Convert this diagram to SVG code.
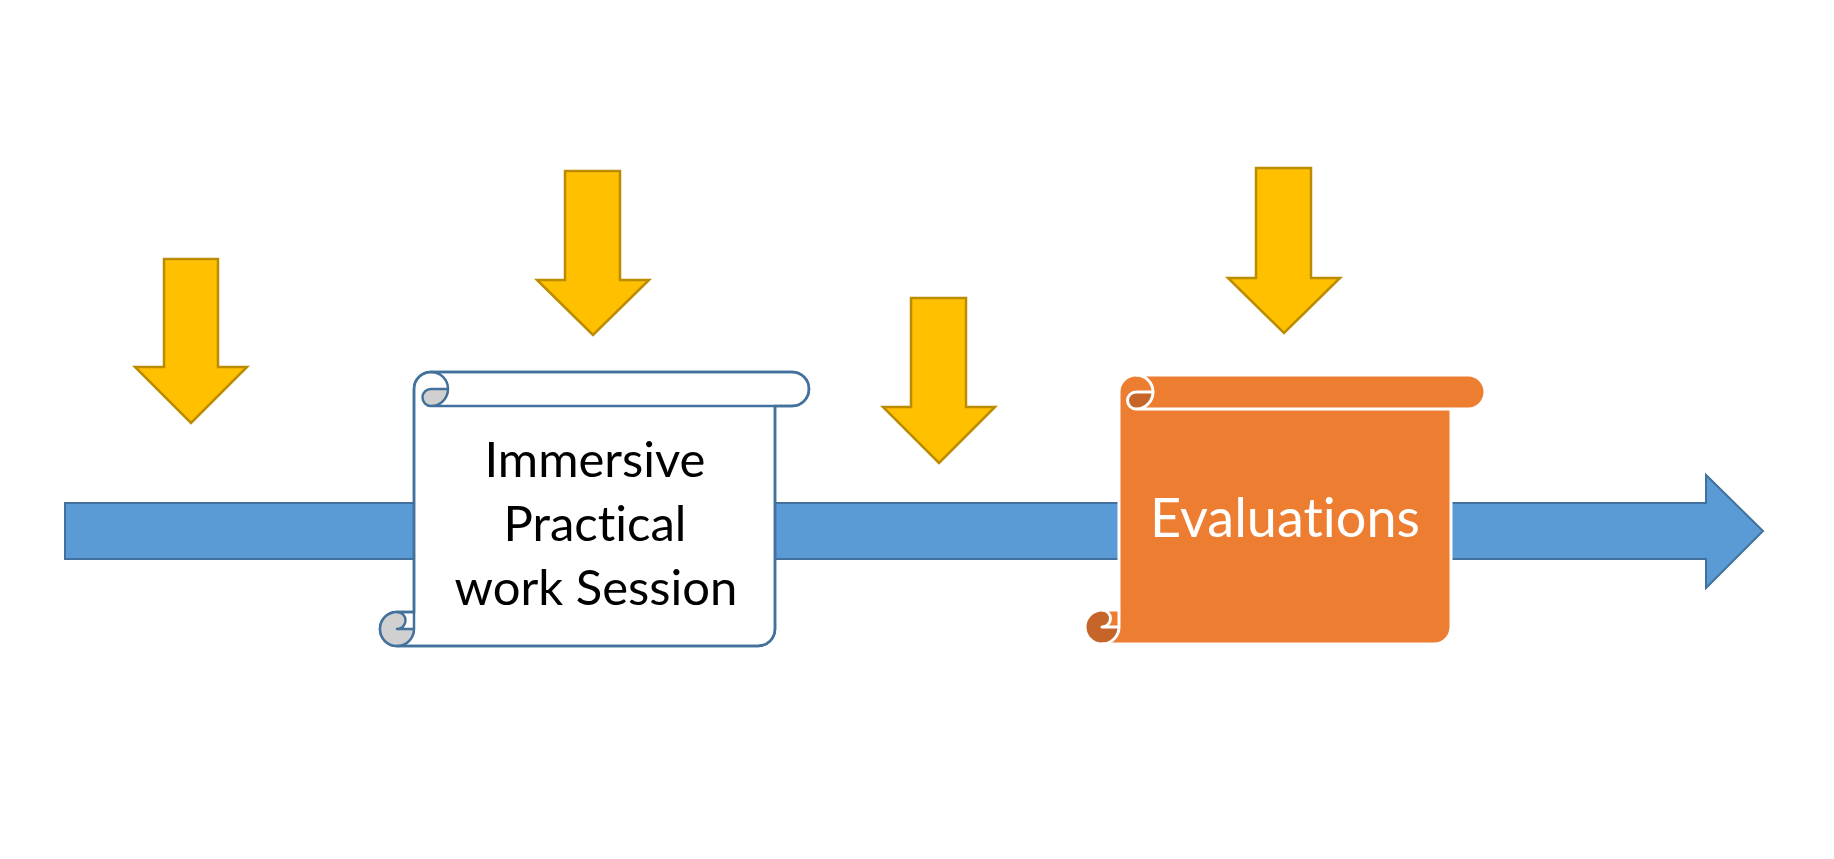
<svg xmlns="http://www.w3.org/2000/svg" width="1834" height="859" viewBox="0 0 1834 859">
<style>
.down{fill:#FFC000;stroke:#BC8C00;stroke-width:2.5;stroke-linejoin:miter}
.timeline{fill:#5B9BD5;stroke:#41719C;stroke-width:2}
.s1fill{fill:#FFFFFF;stroke:#41719C;stroke-width:2.5;stroke-linejoin:round}
.s1dark{fill:#D0D0D0;stroke:none}
.s1line{fill:none;stroke:#41719C;stroke-width:2.5;stroke-linejoin:round}
.s2fill{fill:#ED7D31;stroke:none}
.s2dark{fill:#C5652A;stroke:none}
.s2line{fill:none;stroke:#FFFFFF;stroke-width:3;stroke-linejoin:round}
.t1{font-family:Lato,"Liberation Sans",sans-serif;font-size:49px;fill:#000000;text-anchor:middle;font-variant-ligatures:none}
.t2{font-family:Lato,"Liberation Sans",sans-serif;font-size:54px;fill:#FFFFFF;text-anchor:middle;font-variant-ligatures:none}
</style>
<rect width="1834" height="859" fill="#FFFFFF"/>
<g id="connectors">
<polygon id="timeline" class="timeline" points="65,503 1706,503 1706,475 1763,531 1706,588 1706,559 65,559"/>
</g>
<g id="arrow1"><polygon class="down" points="164,259 218,259 218,367 247,367 191,423 135,367 164,367"/></g>
<g id="arrow2"><polygon class="down" points="565,171 620,171 620,280 649,280 593,335 537,280 565,280"/></g>
<g id="arrow3"><polygon class="down" points="911,298 966,298 966,407 995,407 939,463 883,407 911,407"/></g>
<g id="arrow4"><polygon class="down" points="1256,168 1311,168 1311,278 1340,278 1284,333 1228,278 1256,278"/></g>
<g id="scroll1">
<path class="s1fill" d="M 414,612 L 414,389 A 17 17 0 0 1 431,372 L 792,372 A 17 17 0 0 1 792,406 L 775,406 L 775,629 A 17 17 0 0 1 758,646 L 397,646 A 17 17 0 0 1 397,612 Z"/>
<path class="s1dark" d="M 448,389 A 17 17 0 0 1 431,406 A 8.5 8.5 0 0 1 431,389 Z"/>
<path class="s1dark" d="M 414,629 A 17 17 0 1 1 397,612 A 8.5 8.5 0 0 1 397,629 Z"/>
<path class="s1line" d="M 431,372 A 17 17 0 0 1 431,406 A 8.5 8.5 0 0 1 431,389 L 448,389 M 775,406 L 431,406 M 397,612 A 8.5 8.5 0 0 1 397,629 L 414,629 M 397,646 A 17 17 0 0 0 414,629 L 414,612"/>
<path class="s1line" d="M 414,612 L 414,389 A 17 17 0 0 1 431,372 L 792,372 A 17 17 0 0 1 792,406 L 775,406 L 775,629 A 17 17 0 0 1 758,646 L 397,646 A 17 17 0 0 1 397,612 Z"/>
<text class="t1" x="595" y="477">Immersive</text>
<text class="t1" x="595" y="541">Practical</text>
<text class="t1" x="596" y="605">work Session</text>
</g>
<g id="scroll2">
<path class="s2fill" d="M 1119,610 L 1119,392 A 17 17 0 0 1 1136,375 L 1468,375 A 17 17 0 0 1 1468,409 L 1451,409 L 1451,627 A 17 17 0 0 1 1434,644 L 1102,644 A 17 17 0 0 1 1102,610 Z"/>
<path class="s2dark" d="M 1153,392 A 17 17 0 0 1 1136,409 A 8.5 8.5 0 0 1 1136,392 Z"/>
<path class="s2dark" d="M 1119,627 A 17 17 0 1 1 1102,610 A 8.5 8.5 0 0 1 1102,627 Z"/>
<path class="s2line" d="M 1136,375 A 17 17 0 0 1 1136,409 A 8.5 8.5 0 0 1 1136,392 L 1153,392 M 1451,409 L 1136,409 M 1102,610 A 8.5 8.5 0 0 1 1102,627 L 1119,627 M 1102,644 A 17 17 0 0 0 1119,627 L 1119,610"/>
<path class="s2line" d="M 1119,610 L 1119,392 A 17 17 0 0 1 1136,375 L 1468,375 A 17 17 0 0 1 1468,409 L 1451,409 L 1451,627 A 17 17 0 0 1 1434,644 L 1102,644 A 17 17 0 0 1 1102,610 Z"/>
<text class="t2" x="1285" y="537">Evaluations</text>
</g>
</svg>
